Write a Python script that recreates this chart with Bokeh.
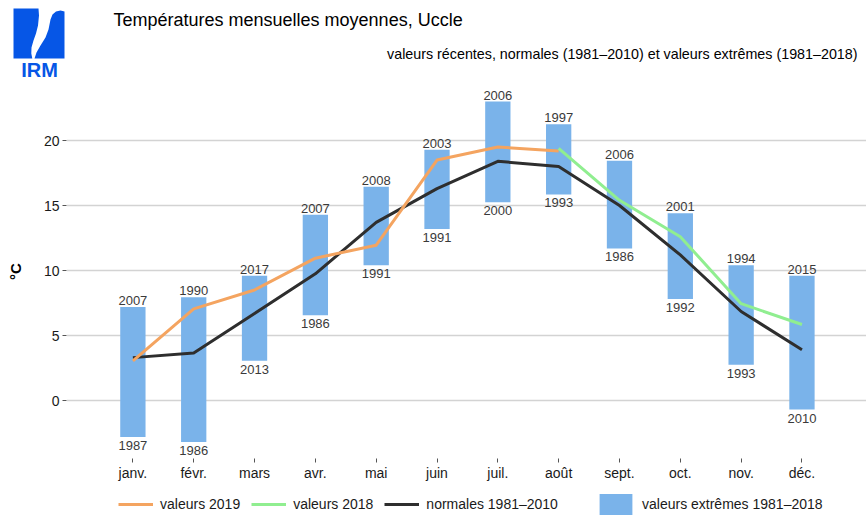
from bokeh.plotting import figure
from bokeh.models import Range1d, FixedTicker, Legend, LegendItem
from bokeh.layouts import column
from bokeh.core.properties import value
from bokeh.embed import file_html
from bokeh.resources import INLINE

# ---------------- data ----------------
months = ["janv.", "févr.", "mars", "avr.", "mai", "juin", "juil.", "août",
          "sept.", "oct.", "nov.", "déc."]
month_pos = [1, 2, 3, 4, 5, 6, 7, 8, 9, 10, 11, 12]

extreme_max = [7.2, 7.95, 9.6, 14.3, 16.45, 19.3, 23.0, 21.25, 18.45, 14.4, 10.4, 9.6]
extreme_min = [-2.8, -3.2, 3.05, 6.55, 10.4, 13.2, 15.25, 15.85, 11.7, 7.8, 2.75, -0.7]
year_max = ["2007", "1990", "2017", "2007", "2008", "2003", "2006", "1997", "2006", "2001", "1994", "2015"]
year_min = ["1987", "1986", "2013", "1986", "1991", "1991", "2000", "1993", "1986", "1992", "1993", "2010"]

normales = [3.3, 3.65, 6.7, 9.75, 13.7, 16.3, 18.4, 18.0, 15.0, 11.2, 6.85, 3.9]

pos_2019 = [1, 2, 3, 4, 5, 6, 7, 8]
vals_2019 = [3.05, 7.05, 8.5, 10.95, 11.95, 18.5, 19.5, 19.2]
pos_2018 = [8, 9, 10, 11, 12]
vals_2018 = [19.4, 15.4, 12.6, 7.45, 5.85]

y_ticks = [0, 5, 10, 15, 20]

title_text = "Températures mensuelles moyennes, Uccle"
subtitle_text = "valeurs récentes, normales (1981–2010) et valeurs extrêmes (1981–2018)"
logo_text = "IRM"
legend_labels = ["valeurs 2019", "valeurs 2018", "normales 1981–2010", "valeurs extrêmes 1981–2018"]

# ---------------- style ----------------
FONT = "Liberation Sans"
BLUE = "#7ab3ea"
ORANGE = "#f4a460"
GREEN = "#90ee90"
DARK = "#2e2e2e"
LOGO = "#0656e6"
TXT = "#1a1a1a"
W = 866


def bare(fig):
    fig.min_border_left = 0
    fig.min_border_right = 0
    fig.min_border_top = 0
    fig.min_border_bottom = 0
    fig.outline_line_color = None
    fig.background_fill_color = "white"
    fig.border_fill_color = "white"
    fig.frame_align = False


# ---------------- header (pixel coordinates, y downwards) ----------------
hdr = figure(width=W, height=84, x_range=Range1d(0, W), y_range=Range1d(84, 0),
             title=None, x_axis_type=None, y_axis_type=None,
             toolbar_location=None, output_backend="svg")
bare(hdr)
hdr.grid.visible = False

logo_left_x = [13, 38, 38.5, 37.5, 35.5, 33, 31, 30.8, 31.8, 13]
logo_left_y = [8, 8, 15, 25, 33, 40, 47, 53, 58, 58]
logo_right_x = [64, 64, 60, 55.5, 52, 50, 48, 45, 40, 36, 34, 64]
logo_right_y = [58, 11, 10, 11, 14, 19, 29, 37, 45, 52, 58, 58]
hdr.patches(xs=[logo_left_x, logo_right_x], ys=[logo_left_y, logo_right_y],
            fill_color=LOGO, line_color=None)
hdr.text(x=[39], y=[69], text=[logo_text], text_align="center", text_baseline="middle",
         text_font=value(FONT), text_font_size="20px", text_font_style="bold",
         text_color=LOGO)
hdr.text(x=[113], y=[19], text=[title_text], text_align="left", text_baseline="middle",
         text_font=value(FONT), text_font_size="18px", text_color="black")
hdr.text(x=[857], y=[53], text=[subtitle_text], text_align="right", text_baseline="middle",
         text_font=value(FONT), text_font_size="14.3px", text_color="black")

# ---------------- main chart ----------------
p = figure(width=W, height=402, x_range=Range1d(-0.0914, 13.061), y_range=Range1d(-4.46, 24.31),
           title=None, toolbar_location=None, output_backend="svg")
p.min_border_left = 66
p.min_border_right = 0
p.min_border_top = 0
p.min_border_bottom = 28
p.outline_line_color = None
p.background_fill_color = "white"
p.border_fill_color = "white"
p.frame_align = False

p.xgrid.visible = False
p.ygrid.ticker = FixedTicker(ticks=y_ticks)
p.ygrid.grid_line_color = "#d3d3d3"
p.ygrid.grid_line_width = 1.5

p.yaxis.ticker = FixedTicker(ticks=y_ticks)
p.xaxis.ticker = FixedTicker(ticks=month_pos)
p.xaxis.major_label_overrides = {m: lab for m, lab in zip(month_pos, months)}

for ax in (p.xaxis[0], p.yaxis[0]):
    ax.axis_line_color = None
    ax.major_tick_in = 0
    ax.major_tick_out = 4
    ax.major_tick_line_color = "#555555"
    ax.minor_tick_line_color = None
    ax.major_label_text_font = FONT
    ax.major_label_text_font_size = "14px"
    ax.major_label_text_color = TXT

p.yaxis.major_label_standoff = 3
p.xaxis.major_label_standoff = 2
p.yaxis.axis_label = "°C"
p.yaxis.axis_label_text_font = FONT
p.yaxis.axis_label_text_font_size = "15px"
p.yaxis.axis_label_text_font_style = "bold"
p.yaxis.axis_label_text_color = "black"
p.yaxis.axis_label_standoff = 17

bars = p.vbar(x=month_pos, width=0.416, bottom=extreme_min, top=extreme_max,
              fill_color=BLUE, line_color=None)
p.text(x=month_pos, y=extreme_max, text=year_max, text_align="center", text_baseline="bottom",
       y_offset=-2, text_font=value(FONT), text_font_size="13px", text_color="#3a3a3a")
p.text(x=month_pos, y=extreme_min, text=year_min, text_align="center", text_baseline="top",
       y_offset=4, text_font=value(FONT), text_font_size="13px", text_color="#3a3a3a")

l_norm = p.line(month_pos, normales, line_color=DARK, line_width=3, line_join="round")
l_2019 = p.line(pos_2019, vals_2019, line_color=ORANGE, line_width=3, line_join="round")
l_2018 = p.line(pos_2018, vals_2018, line_color=GREEN, line_width=3, line_join="round")

# ---------------- legend strip ----------------
lg = figure(width=W, height=31, x_range=Range1d(-3, -2), y_range=Range1d(-3, -2),
            title=None, x_axis_type=None, y_axis_type=None,
            toolbar_location=None, output_backend="svg")
bare(lg)
lg.grid.visible = False
k19 = lg.line(pos_2019, vals_2019, line_color=ORANGE, line_width=3)
k18 = lg.line(pos_2018, vals_2018, line_color=GREEN, line_width=3)
kno = lg.line(month_pos, normales, line_color=DARK, line_width=3)
kbar = lg.vbar(x=month_pos, width=0.416, bottom=extreme_min, top=extreme_max,
               fill_color=BLUE, line_color=None)

common = dict(orientation="horizontal", padding=0, margin=0, border_line_color=None,
              background_fill_alpha=0, label_text_font=FONT, label_text_font_size="14px",
              label_text_color=TXT, glyph_height=26, label_height=26)
leg1 = Legend(items=[LegendItem(label=legend_labels[0], renderers=[k19]),
                     LegendItem(label=legend_labels[1], renderers=[k18]),
                     LegendItem(label=legend_labels[2], renderers=[kno])],
              location=(118, 0), glyph_width=35, label_standoff=7, spacing=11, **common)
leg2 = Legend(items=[LegendItem(label=legend_labels[3], renderers=[kbar])],
              location=(595, 0), glyph_width=41, label_standoff=6, spacing=0, **common)
lg.add_layout(leg1)
lg.add_layout(leg2)

layout = column(hdr, p, lg, spacing=0)
open("out.html", "w").write(file_html(layout, INLINE))
